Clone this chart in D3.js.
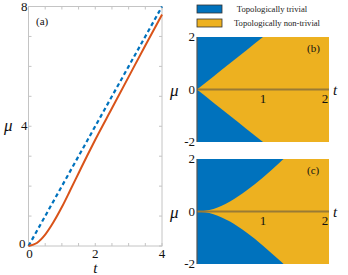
<!DOCTYPE html>
<html>
<head>
<meta charset="utf-8">
<script src="https://cdn.jsdelivr.net/npm/d3@7"></script>
<style>
  body { margin: 0; background: #fff; }
  svg text { font-family: "Liberation Serif", "Times New Roman", "DejaVu Serif", serif; }
</style>
</head>
<body>
<svg id="chart" width="348" height="275"></svg>
<script>
// values
var tValues = [0, 0.25, 0.5, 0.75, 1, 1.25, 1.5, 1.75, 2, 2.5, 3, 3.5, 4];
var muNumerical = [0, 0.1, 0.38, 0.8, 1.3, 1.86, 2.43, 3.0, 3.55, 4.6, 5.65, 6.7, 7.73];
var muLinear = [0, 0.5, 1, 1.5, 2, 2.5, 3, 3.5, 4, 5, 6, 7, 8];
var aTicksX = [0, 2, 4];
var aTicksY = [0, 4, 8];
var phaseTicksT = [1, 2];
var phaseTicksMu = [-2, 0, 2];
var legendLabels = ['Topologically trivial', 'Topologically non-trivial'];

var BLUE = '#0072BD', GOLD = '#EDB120', RED = '#D95319';
var FONT = '"Liberation Serif", "Times New Roman", serif';

var svg = d3.select('#chart');

function label(g, x, y, txt, size, opts){
	opts = opts || {};
	return g.append('text').attr('x', x).attr('y', y)
		.attr('font-family', FONT).attr('font-size', size)
		.attr('text-anchor', opts.anchor || 'start')
		.attr('font-style', opts.italic ? 'italic' : 'normal')
		.attr('fill', opts.fill || '#111')
		.text(txt);
}

// ---- panel (a)
var xa = d3.scaleLinear().domain([0, 4]).range([28.5, 162]);
var ya = d3.scaleLinear().domain([0, 8]).range([246, 6.5]);

var ga = svg.append('g');
ga.append('rect')
	.attr('x', xa(0)).attr('y', ya(8))
	.attr('width', xa(4) - xa(0)).attr('height', ya(0) - ya(8))
	.attr('fill', 'none').attr('stroke', '#c4c4c4').attr('stroke-width', 1);

// small inward ticks on all four sides
var minorX = d3.range(0, 4.01, 0.5), minorY = d3.range(0, 8.01, 1);
minorX.forEach(function(t){
	ga.append('line').attr('x1', xa(t)).attr('x2', xa(t)).attr('y1', ya(0)).attr('y2', ya(0) - 3)
		.attr('stroke', '#c4c4c4');
	ga.append('line').attr('x1', xa(t)).attr('x2', xa(t)).attr('y1', ya(8)).attr('y2', ya(8) + 3)
		.attr('stroke', '#c4c4c4');
});
minorY.forEach(function(m){
	ga.append('line').attr('x1', xa(0)).attr('x2', xa(0) + 3).attr('y1', ya(m)).attr('y2', ya(m))
		.attr('stroke', '#c4c4c4');
	ga.append('line').attr('x1', xa(4)).attr('x2', xa(4) - 3).attr('y1', ya(m)).attr('y2', ya(m))
		.attr('stroke', '#c4c4c4');
});

var lineLin = d3.line().x(function(d, i){ return xa(tValues[i]); }).y(function(d){ return ya(d); });
var lineNum = d3.line().curve(d3.curveMonotoneX)
	.x(function(d, i){ return xa(tValues[i]); }).y(function(d){ return ya(d); });

ga.append('path').datum(muLinear).attr('d', lineLin)
	.attr('fill', 'none').attr('stroke', BLUE).attr('stroke-width', 2.2)
	.attr('stroke-dasharray', '4,3');
ga.append('path').datum(muNumerical).attr('d', lineNum)
	.attr('fill', 'none').attr('stroke', RED).attr('stroke-width', 2);

aTicksY.forEach(function(m){
	label(ga, m === 0 ? xa(0) - 3 : xa(0) - 1, ya(m) + (m === 0 ? 2 : 4), m, 13, {anchor: 'end'});
});
aTicksX.forEach(function(t){
	label(ga, t === 0 ? xa(t) + 1 : xa(t), ya(0) + 12, t, 13, {anchor: 'middle'});
});
label(ga, xa(2), 273, 't', 15, {anchor: 'middle', italic: true});
label(ga, 4, ya(4) + 5, 'μ', 17, {italic: true});
label(ga, 36, 25, '(a)', 11);

// ---- legend
var leg = svg.append('g');
[BLUE, GOLD].forEach(function(c, i){
	var y = 5 + i * 14;
	leg.append('rect').attr('x', 197).attr('y', y).attr('width', 25).attr('height', 8)
		.attr('fill', c).attr('stroke', '#333').attr('stroke-width', 0.8);
	label(leg, i === 0 ? 272 : 277, y + 7, legendLabels[i], 8.6, {anchor: 'middle', fill: '#222'});
});

// ---- phase panels (b) and (c)
function phasePanel(top, bottom, boundary, tag, id){
	var x = d3.scaleLinear().domain([0, 2]).range([197, 329]);
	var y = d3.scaleLinear().domain([-2, 2]).range([bottom, top]);
	var g = svg.append('g');

	g.append('clipPath').attr('id', id).append('rect')
		.attr('x', x(0)).attr('y', y(2)).attr('width', x(2) - x(0)).attr('height', y(-2) - y(2));

	g.append('rect')
		.attr('x', x(0)).attr('y', y(2)).attr('width', x(2) - x(0)).attr('height', y(-2) - y(2))
		.attr('fill', BLUE);

	var area = d3.area().curve(d3.curveMonotoneX)
		.x(function(d, i){ return x(tValues[i]); })
		.y0(function(d){ return y(-d); })
		.y1(function(d){ return y(d); });
	g.append('path').datum(boundary).attr('d', area)
		.attr('fill', GOLD).attr('clip-path', 'url(#' + id + ')');

	// zero line and left axis
	g.append('line').attr('x1', x(0)).attr('x2', x(2)).attr('y1', y(0)).attr('y2', y(0))
		.attr('stroke', '#9a7b35').attr('stroke-width', 2);
	g.append('line').attr('x1', x(0)).attr('x2', x(0)).attr('y1', y(2)).attr('y2', y(-2))
		.attr('stroke', '#555').attr('stroke-width', 1.2);

	phaseTicksMu.forEach(function(m){
		label(g, x(0) - 2, y(m) + 4, m, 13, {anchor: 'end'});
	});
	phaseTicksT.forEach(function(t){
		label(g, t === 2 ? x(t) - 4 : x(t), y(0) + 13, t, 13, {anchor: 'middle'});
	});
	label(g, 333, y(0) + 5, 't', 15, {italic: true});
	label(g, 170, y(0) + 6, 'μ', 17, {italic: true});
	label(g, 307, top + 15, tag, 11);
}

phasePanel(37, 142, muLinear, '(b)', 'clipB');
phasePanel(159, 264, muNumerical, '(c)', 'clipC');
</script>
</body>
</html>
